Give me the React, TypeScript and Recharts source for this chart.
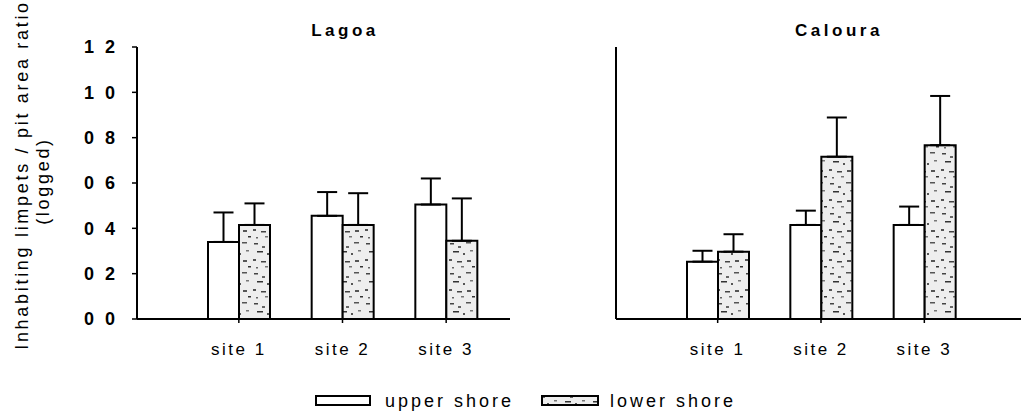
import { BarChart, Bar, XAxis, YAxis, ErrorBar } from 'recharts';

const sites = ['site 1', 'site 2', 'site 3'];
const yTicks = [0, 0.2, 0.4, 0.6, 0.8, 1.0, 1.2];

// Lagoa
const lagoaUpper = [0.34, 0.455, 0.505];
const lagoaUpperErr = [0.13, 0.105, 0.115];
const lagoaLower = [0.415, 0.415, 0.345];
const lagoaLowerErr = [0.095, 0.14, 0.187];

// Caloura
const calouraUpper = [0.253, 0.415, 0.415];
const calouraUpperErr = [0.048, 0.063, 0.081];
const calouraLower = [0.297, 0.716, 0.767];
const calouraLowerErr = [0.077, 0.173, 0.217];

const FONT = '"Liberation Sans", Arial, sans-serif';

function buildRows(upper: number[], upperErr: number[], lower: number[], lowerErr: number[]) {
  return sites.map((site, i) => ({
    site,
    upper: upper[i],
    upperErr: [0, upperErr[i]],
    lower: lower[i],
    lowerErr: [0, lowerErr[i]],
  }));
}

function Speckle({ id }: { id: string }) {
  return (
    <pattern id={id} width="28" height="30" patternUnits="userSpaceOnUse">
      <rect width="28" height="30" fill="#eeeeee" />
      <rect x="2" y="3" width="4" height="1.5" fill="#444" />
      <rect x="10" y="6" width="3" height="2" fill="#666" />
      <rect x="18" y="2" width="5" height="1.5" fill="#555" />
      <rect x="5" y="11" width="6" height="1.5" fill="#333" />
      <rect x="15" y="13" width="2" height="2" fill="#555" />
      <rect x="22" y="10" width="3" height="1.5" fill="#777" />
      <rect x="1" y="19" width="3" height="2" fill="#555" />
      <rect x="9" y="21" width="5" height="1.5" fill="#444" />
      <rect x="19" y="20" width="4" height="2" fill="#555" />
      <rect x="13" y="26" width="3" height="1.5" fill="#777" />
      <rect x="24" y="26" width="3" height="1.5" fill="#333" />
      <rect x="4" y="27" width="2" height="1.5" fill="#666" />
    </pattern>
  );
}

function Panel({ data, showLabels, yAxisWidth, padLeft, padRight, marginRight, width, patternId }: any) {
  return (
    <BarChart
      width={width}
      height={372}
      data={data}
      margin={{ top: 47, right: marginRight, bottom: 8, left: 0 }}
      barGap={0}
      barSize={31}
    >
      <defs>
        <Speckle id={patternId} />
      </defs>
      <XAxis
        dataKey="site"
        padding={{ left: padLeft, right: padRight }}
        axisLine={{ stroke: '#000', strokeWidth: 2 }}
        tickLine={{ stroke: '#000', strokeWidth: 1.5 }}
        tickSize={4}
        tickMargin={20}
        height={45}
        tick={{ fill: '#000', fontSize: 17, fontFamily: FONT, letterSpacing: 2.5 }}
      />
      <YAxis
        width={yAxisWidth}
        domain={[0, 1.2]}
        ticks={yTicks}
        interval={0}
        axisLine={{ stroke: '#000', strokeWidth: 2 }}
        tickLine={{ stroke: '#000', strokeWidth: 1.5 }}
        tickSize={5}
        tickMargin={14}
        tick={showLabels ? { fill: '#000', fontSize: 18, fontWeight: 'bold', fontFamily: FONT, letterSpacing: 3 } : false}
        tickFormatter={(v: number) => v.toFixed(1).replace('.', ' ')}
      />
      <Bar dataKey="upper" fill="#fff" stroke="#000" strokeWidth={2} isAnimationActive={false}>
        <ErrorBar dataKey="upperErr" width={10} stroke="#000" strokeWidth={2} />
      </Bar>
      <Bar dataKey="lower" fill={`url(#${patternId})`} stroke="#000" strokeWidth={2} isAnimationActive={false}>
        <ErrorBar dataKey="lowerErr" width={10} stroke="#000" strokeWidth={2} />
      </Bar>
    </BarChart>
  );
}

export default function App() {
  const lagoa = buildRows(lagoaUpper, lagoaUpperErr, lagoaLower, lagoaLowerErr);
  const caloura = buildRows(calouraUpper, calouraUpperErr, calouraLower, calouraLowerErr);

  return (
    <div style={{ position: 'absolute', left: 0, top: 0, width: 1021, height: 413, background: '#fff', overflow: 'hidden' }}>
      <div style={{ position: 'absolute', left: 0, top: 0 }}>
        <Panel data={lagoa} showLabels yAxisWidth={137} padLeft={50} padRight={12} marginRight={10} width={520} patternId="speckA" />
      </div>
      <div style={{ position: 'absolute', left: 520, top: 0 }}>
        <Panel data={caloura} showLabels={false} yAxisWidth={96} padLeft={50} padRight={45} marginRight={0} width={501} patternId="speckB" />
      </div>
      <svg width={1021} height={413} style={{ position: 'absolute', left: 0, top: 0, pointerEvents: 'none' }} fontFamily={FONT}>
        <defs>
          <Speckle id="speckLegend" />
        </defs>
        <text x={345} y={36} textAnchor="middle" fontSize={17} fontWeight="bold" letterSpacing={3.5}>Lagoa</text>
        <text x={839} y={36} textAnchor="middle" fontSize={17} fontWeight="bold" letterSpacing={3.5}>Caloura</text>
        <text transform="translate(28,175) rotate(-90)" textAnchor="middle" fontSize={18} letterSpacing={2.7}>
          Inhabiting limpets / pit area ratio
        </text>
        <text transform="translate(49,181) rotate(-90)" textAnchor="middle" fontSize={18} letterSpacing={2.7}>
          (logged)
        </text>
        <rect x={316} y={396} width={54} height={9} fill="#fff" stroke="#000" strokeWidth={2} />
        <text x={385} y={407} fontSize={18} letterSpacing={3}>upper shore</text>
        <rect x={542} y={396} width={56} height={9} fill="url(#speckLegend)" stroke="#000" strokeWidth={2} />
        <text x={610} y={407} fontSize={18} letterSpacing={3}>lower shore</text>
      </svg>
    </div>
  );
}
